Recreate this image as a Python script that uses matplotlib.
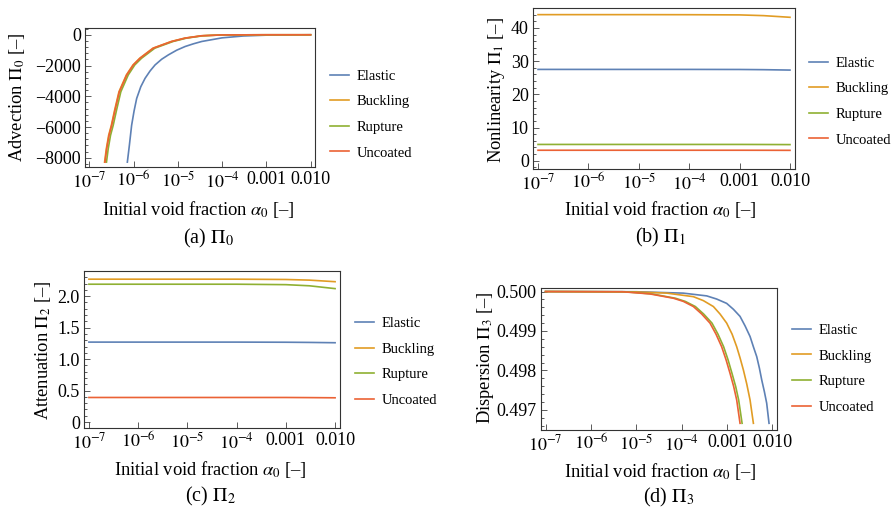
import numpy as np
import matplotlib
matplotlib.use('Agg')
from matplotlib import pyplot as plt
from matplotlib.ticker import AutoMinorLocator, LogLocator, NullFormatter

plt.rcParams['font.family'] = ['Liberation Serif', 'DejaVu Serif']
plt.rcParams['mathtext.fontset'] = 'stix'

names = ['Elastic', 'Buckling', 'Rupture', 'Uncoated']
colors = ['#5E81B5', '#E19C24', '#8FB032', '#EB6235']

# (a) advection Pi_0
a_x_el = [7.2e-7, 8.0e-7, 9.0e-7, 1.02e-6, 1.17e-6, 1.45e-6, 1.81e-6, 2.35e-6, 3.05e-6, 4.3e-6,
          6.1e-6, 9.4e-6, 1.46e-5, 2.24e-5, 3.47e-5, 1e-4, 3e-4, 1e-3, 1e-2]
a_y_el = [-8283, -7194, -5886, -4970, -4142, -3379, -2834, -2354, -1962, -1591,
          -1308, -1003, -763, -589, -436, -200, -80, -25, 0]
a_x_bu = [2.2e-7, 2.41e-7, 2.72e-7, 3.13e-7, 3.71e-7, 4.65e-7, 6.83e-7, 9.66e-7, 1.37e-6, 2.73e-6,
          7.1e-6, 1.43e-5, 3.4e-5, 1e-4, 1e-3, 1e-2]
a_y_bu = [-8283, -7412, -6540, -5886, -4905, -3706, -2616, -1962, -1526, -872,
          -436, -218, -65, -10, 0, 0]
a_x_ru = [2.43e-7, 2.66e-7, 3.0e-7, 3.45e-7, 4.1e-7, 5.13e-7, 7.53e-7, 1.06e-6, 1.51e-6, 3.01e-6,
          7.8e-6, 1.57e-5, 3.7e-5, 1e-4, 1e-3, 1e-2]
a_y_ru = [-8283, -7412, -6540, -5886, -4905, -3706, -2616, -1962, -1526, -872,
          -436, -218, -65, -10, 0, 0]
a_x_un = [2.25e-7, 2.46e-7, 2.78e-7, 3.19e-7, 3.79e-7, 4.75e-7, 6.97e-7, 9.86e-7, 1.40e-6, 2.79e-6,
          7.26e-6, 1.46e-5, 3.47e-5, 1e-4, 1e-3, 1e-2]
a_y_un = [-8283, -7412, -6540, -5886, -4905, -3706, -2616, -1962, -1526, -872,
          -436, -218, -65, -10, 0, 0]

# (b) nonlinearity Pi_1
b_x = [1e-7, 1e-6, 1e-5, 1e-4, 1e-3, 3e-3, 1e-2]
b_el = [27.5, 27.5, 27.5, 27.5, 27.48, 27.42, 27.3]
b_bu = [44.0, 44.0, 44.0, 43.98, 43.92, 43.7, 43.2]
b_ru = [4.9, 4.9, 4.9, 4.9, 4.9, 4.88, 4.85]
b_un = [3.15, 3.15, 3.15, 3.15, 3.15, 3.14, 3.12]

# (c) attenuation Pi_2
c_x = [1e-7, 1e-6, 1e-5, 1e-4, 1e-3, 3e-3, 1e-2]
c_el = [1.27, 1.27, 1.27, 1.27, 1.268, 1.265, 1.26]
c_bu = [2.27, 2.27, 2.27, 2.27, 2.265, 2.255, 2.23]
c_ru = [2.19, 2.19, 2.19, 2.19, 2.183, 2.165, 2.12]
c_un = [0.39, 0.39, 0.39, 0.39, 0.39, 0.388, 0.385]

# (d) dispersion Pi_3
d_x_el = [1e-7, 1e-5, 1.08e-4, 3.56e-4, 5.9e-4, 9.8e-4, 1.38e-3, 1.93e-3, 2.49e-3, 3.21e-3,
          3.8e-3, 4.5e-3, 5.15e-3, 5.8e-3, 6.64e-3, 7.46e-3, 8.4e-3]
d_y_el = [0.5, 0.499995, 0.49996, 0.49989, 0.49981, 0.49970, 0.49955, 0.49937, 0.49913, 0.49886,
          0.49860, 0.49835, 0.49806, 0.49776, 0.49746, 0.49717, 0.49666]
d_x_bu = [1e-7, 1e-5, 4.7e-5, 1.81e-4, 3.0e-4, 4.99e-4, 7.0e-4, 9.8e-4, 1.29e-3, 1.63e-3,
          1.93e-3, 2.29e-3, 2.71e-3, 3.21e-3, 3.8e-3]
d_y_bu = [0.5, 0.49999, 0.49996, 0.49987, 0.49977, 0.49962, 0.49943, 0.49920, 0.49892, 0.49860,
          0.49832, 0.49801, 0.49766, 0.49725, 0.49666]
d_x_ru = [1e-7, 5.5e-6, 2.2e-5, 7.3e-5, 1.2e-4, 2.0e-4, 3.05e-4, 4.65e-4, 6.3e-4, 8.4e-4,
          1.05e-3, 1.28e-3, 1.55e-3, 1.8e-3, 2.14e-3]
d_y_ru = [0.5, 0.499995, 0.49994, 0.49983, 0.49975, 0.49962, 0.49943, 0.49920, 0.49892, 0.49860,
          0.49827, 0.49793, 0.49759, 0.49725, 0.49666]
d_x_un = [1e-7, 5e-6, 2.0e-5, 6.6e-5, 1.09e-4, 1.81e-4, 2.76e-4, 4.2e-4, 5.7e-4, 7.6e-4,
          9.5e-4, 1.16e-3, 1.40e-3, 1.63e-3, 1.93e-3]
d_y_un = [0.5, 0.499995, 0.49994, 0.49983, 0.49975, 0.49962, 0.49943, 0.49920, 0.49892, 0.49860,
          0.49827, 0.49793, 0.49759, 0.49725, 0.49666]

xticks = [1e-7, 1e-6, 1e-5, 1e-4, 1e-3, 1e-2]
xticklabels = ['$10^{-7}$', '$10^{-6}$', '$10^{-5}$', '$10^{-4}$', '0.001', '0.010']

W, H = 894, 513
fig = plt.figure(figsize=(W / 100, H / 100), dpi=100)

def make_ax(l, r, t, b):
    return fig.add_axes([l / W, 1 - b / H, (r - l) / W, (b - t) / H])

def style(ax, yt, ylabs, ylim):
    ax.set_xscale('log')
    ax.set_xlim(10 ** -7.1, 10 ** -1.9)
    ax.set_xticks(xticks)
    ax.set_xticklabels(xticklabels)
    ax.xaxis.set_minor_locator(LogLocator(base=10, subs=np.arange(2, 10)))
    ax.xaxis.set_minor_formatter(NullFormatter())
    ax.set_yticks(yt)
    ax.set_yticklabels(ylabs)
    ax.yaxis.set_minor_locator(AutoMinorLocator(5))
    ax.set_ylim(*ylim)
    ax.tick_params(which='both', direction='in', top=False, right=False,
                   labelsize=13, color='0.25', width=0.6, pad=3)
    ax.tick_params(which='major', length=4)
    ax.tick_params(which='minor', length=2.2)
    for s in ax.spines.values():
        s.set_linewidth(0.8)
        s.set_color('0.2')

def legend(ax, x, y):
    ax.legend(loc='center left', bbox_to_anchor=(x / W, 1 - y / H),
              bbox_transform=fig.transFigure, frameon=False, fontsize=10.5,
              handlelength=1.3, handletextpad=0.55, labelspacing=0.85,
              borderpad=0, borderaxespad=0)

def texts(ylab, yx, yy, xx, xy, cap, cx, cy):
    fig.text(yx / W, 1 - yy / H, ylab, rotation=90, ha='center', va='center', fontsize=13.3)
    fig.text(xx / W, 1 - xy / H, r'Initial void fraction $\alpha_0$ [–]', ha='center', va='center', fontsize=13.3)
    fig.text(cx / W, 1 - cy / H, cap, ha='center', va='center', fontsize=14.5)

lw = 1.2

# panel a
ax = make_ax(85, 315, 28, 167)
for xs, ys, c, n in zip([a_x_el, a_x_bu, a_x_ru, a_x_un], [a_y_el, a_y_bu, a_y_ru, a_y_un], colors, names):
    ax.plot(xs, ys, color=c, lw=lw, label=n)
style(ax, [0, -2000, -4000, -6000, -8000], ['0', '−2000', '−4000', '−6000', '−8000'], (-8600, 440))
legend(ax, 330, 114.5)
texts(r'Advection $\Pi_0$ [–]', 17, 97, 198, 210, r'(a) $\Pi_0$', 208, 238)

# panel b
ax = make_ax(533, 795, 8, 169)
for ys, c, n in zip([b_el, b_bu, b_ru, b_un], colors, names):
    ax.plot(b_x, ys, color=c, lw=lw, label=n)
style(ax, [0, 10, 20, 30, 40], ['0', '10', '20', '30', '40'], (-2.5, 46))
legend(ax, 809, 101.5)
texts(r'Nonlinearity $\Pi_1$ [–]', 497, 90, 660, 210, r'(b) $\Pi_1$', 660, 237)

# panel c
ax = make_ax(84, 340, 271, 428)
for ys, c, n in zip([c_el, c_bu, c_ru, c_un], colors, names):
    ax.plot(c_x, ys, color=c, lw=lw, label=n)
style(ax, [0, 0.5, 1.0, 1.5, 2.0], ['0', '0.5', '1.0', '1.5', '2.0'], (-0.095, 2.40))
legend(ax, 355, 362)
texts(r'Attenuation $\Pi_2$ [–]', 43, 350, 210, 469, r'(c) $\Pi_2$', 210, 496)

# panel d
ax = make_ax(541, 777, 288, 430)
for xs, ys, c, n in zip([d_x_el, d_x_bu, d_x_ru, d_x_un], [d_y_el, d_y_bu, d_y_ru, d_y_un], colors, names):
    ax.plot(xs, ys, color=c, lw=lw, label=n)
style(ax, [0.497, 0.498, 0.499, 0.500], ['0.497', '0.498', '0.499', '0.500'], (0.49649, 0.50009))
legend(ax, 792, 368.7)
texts(r'Dispersion $\Pi_3$ [–]', 485, 358, 660, 472, r'(d) $\Pi_3$', 669, 497)

fig.savefig('out.png', dpi=100)
